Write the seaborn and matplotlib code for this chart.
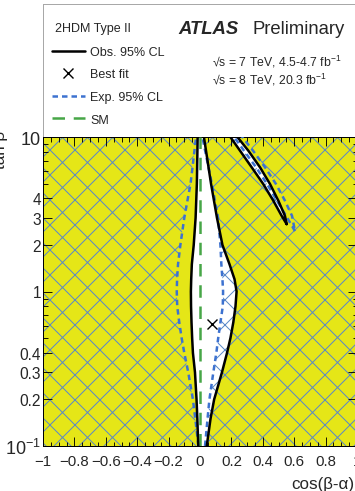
import matplotlib
matplotlib.use("Agg")
import matplotlib.pyplot as plt
from matplotlib.path import Path
from matplotlib.patches import PathPatch
from matplotlib.lines import Line2D
from matplotlib.ticker import FixedLocator, FixedFormatter, MultipleLocator, FuncFormatter, NullFormatter
import seaborn as sns

# ---- data -------------------------------------------------------------
# central allowed band, sampled in tan(beta)
band_tanb = [0.1, 0.15, 0.2, 0.3, 0.4, 0.5, 0.63, 0.8, 1.0, 1.2, 1.5, 2.0, 3.0, 5.0, 10.0]
obs_left = [-0.011, -0.017, -0.022, -0.032, -0.045, -0.050, -0.054, -0.057, -0.058, -0.056, -0.052, -0.040, -0.028, -0.020, -0.015]
obs_right = [0.043, 0.067, 0.090, 0.140, 0.172, 0.194, 0.212, 0.226, 0.233, 0.220, 0.188, 0.143, 0.108, 0.070, 0.025]
exp_left = [-0.010, -0.030, -0.045, -0.075, -0.100, -0.117, -0.132, -0.145, -0.148, -0.146, -0.140, -0.125, -0.100, -0.060, -0.025]
exp_right = [0.032, 0.048, 0.060, 0.085, 0.104, 0.116, 0.130, 0.145, 0.147, 0.143, 0.136, 0.130, 0.115, 0.075, 0.015]

# upper-right "wrong-sign" petal
petal_obs_tanb = [2.73, 3.09, 3.87, 4.96, 6.37, 8.15, 10.46]
petal_obs_left = [0.552, 0.520, 0.467, 0.403, 0.329, 0.255, 0.180]
petal_obs_right = [0.552, 0.541, 0.499, 0.446, 0.382, 0.308, 0.223]
petal_exp_tanb = [2.46, 3.09, 3.87, 4.96, 6.37, 8.15, 10.46]
petal_exp_left = [0.605, 0.548, 0.490, 0.427, 0.357, 0.280, 0.204]
petal_exp_right = [0.605, 0.586, 0.541, 0.484, 0.414, 0.338, 0.255]

best_fit_cos = [0.078]
best_fit_tanb = [0.62]
sm_cos = 0.0

x_ticks = [-1, -0.8, -0.6, -0.4, -0.2, 0, 0.2, 0.4, 0.6, 0.8, 1]
y_ticks = [0.1, 0.2, 0.3, 0.4, 1, 2, 3, 4, 10]
y_tick_labels = [r"$\mathregular{10^{-1}}$", "0.2", "0.3", "0.4", "1", "2", "3", "4", "10"]
y_minor = [0.5, 0.6, 0.7, 0.8, 0.9, 5, 6, 7, 8, 9]

# ---- style ------------------------------------------------------------
W, H, DPI = 355, 492, 75
PX = 72.0 / DPI          # points per pixel

sns.set_theme(style="ticks")
plt.rcParams["font.family"] = ["Liberation Sans", "DejaVu Sans"]
plt.rcParams["mathtext.fontset"] = "custom"
plt.rcParams["mathtext.rm"] = "Liberation Sans"
plt.rcParams["mathtext.it"] = "Liberation Sans:italic"
plt.rcParams["mathtext.bf"] = "Liberation Sans:bold"
plt.rcParams["hatch.linewidth"] = 1.0 * PX

yellow = "#e5e617"
hatch_blue = "#5a88c8"
exp_blue = "#3d72d0"
sm_green = "#47a647"

fig = plt.figure(figsize=(W / DPI, H / DPI), dpi=DPI)
fig.patch.set_facecolor("white")


def fx(px):
    return px / W


def fy(py):
    return 1 - py / H


# header panel holding the legend and labels
head = fig.add_axes([fx(43), fy(138), fx(420) - fx(43), fy(5) - fy(138)])
head.set_xticks([])
head.set_yticks([])
for s in head.spines.values():
    s.set_color("#a8a8a8")
    s.set_linewidth(1.0 * PX)
head.spines["bottom"].set_visible(False)

ax = fig.add_axes([fx(43), fy(447), fx(357) - fx(43), fy(138) - fy(447)])
ax.set_facecolor(yellow)
ax.set_yscale("log")
ax.set_xlim(-1, 1)
ax.set_ylim(0.1, 10)

# observed allowed regions (white)
ax.fill_betweenx(band_tanb, obs_left, obs_right, color="white", lw=0, zorder=1)
ax.fill_betweenx(petal_obs_tanb, petal_obs_left, petal_obs_right, color="white", lw=0, zorder=1)


# expected exclusion: hatch everywhere outside the expected allowed regions
def outline(left, right, ys):
    # up the left edge, back down the right edge (clockwise)
    return list(zip(left, ys)) + list(zip(right[::-1], ys[::-1]))


rings = [[(-1.2, 0.05), (1.2, 0.05), (1.2, 20), (-1.2, 20)],
         outline(exp_left, exp_right, band_tanb),
         outline(petal_exp_left, petal_exp_right, petal_exp_tanb)]
verts, codes = [], []
for r in rings:
    verts += r + [r[0]]
    codes += [Path.MOVETO] + [Path.LINETO] * (len(r) - 1) + [Path.CLOSEPOLY]
hatch_patch = PathPatch(Path(verts, codes), facecolor="none", edgecolor=hatch_blue,
                        hatch="x", lw=0, zorder=2)
ax.add_patch(hatch_patch)

lw_main = 2.5 * PX
exp_style = (0, (2.2, 1.6))
sm_style = (0, (5.0, 3.5))

# expected contours
for xs, ys in [(exp_left, band_tanb), (exp_right, band_tanb),
               (petal_exp_left + petal_exp_right[::-1], petal_exp_tanb + petal_exp_tanb[::-1])]:
    sns.lineplot(x=xs, y=ys, sort=False, estimator=None, color=exp_blue, lw=lw_main,
                 linestyle=exp_style, ax=ax, zorder=3)

# SM expectation
ax.axvline(sm_cos, color=sm_green, lw=lw_main, linestyle=sm_style, zorder=3)

# observed contours
for xs, ys in [(obs_left, band_tanb), (obs_right, band_tanb),
               (petal_obs_left + petal_obs_right[::-1], petal_obs_tanb + petal_obs_tanb[::-1])]:
    sns.lineplot(x=xs, y=ys, sort=False, estimator=None, color="black", lw=lw_main,
                 ax=ax, zorder=4)

# best fit point
sns.scatterplot(x=best_fit_cos, y=best_fit_tanb, marker="x", color="black",
                s=(10 * PX) ** 2, linewidth=1.4 * PX, ax=ax, zorder=5)

# ---- axes -------------------------------------------------------------
ax.xaxis.set_major_locator(FixedLocator(x_ticks))
ax.xaxis.set_minor_locator(MultipleLocator(0.05))
ax.xaxis.set_major_formatter(FuncFormatter(lambda v, p: f"{v:g}".replace("-", "\u2212")))
ax.yaxis.set_major_locator(FixedLocator(y_ticks))
ax.yaxis.set_major_formatter(FixedFormatter(y_tick_labels))
ax.yaxis.set_minor_locator(FixedLocator(y_minor))
ax.yaxis.set_minor_formatter(NullFormatter())

ax.tick_params(which="both", direction="in", top=True, right=True, color="black",
               width=0.9 * PX)
ax.tick_params(which="major", length=9 * PX)
ax.tick_params(which="minor", length=4.5 * PX)
ax.tick_params(axis="x", labelsize=15 * PX, pad=8 * PX)
ax.tick_params(axis="y", labelsize=15.5 * PX, pad=2 * PX)
for lab in ax.get_yticklabels():
    if lab.get_text() in ("10", y_tick_labels[0]):
        lab.set_fontsize(18 * PX)
for s in ax.spines.values():
    s.set_color("black")
    s.set_linewidth(1.0 * PX)
ax.set_axisbelow(False)
ax.set_ylabel("")

ax.set_xlabel("cos(β-α)", loc="right", fontsize=17 * PX, labelpad=8 * PX)
ax.xaxis.label.set_x((354 - 43) / (357 - 43))
fig.text(fx(1), fy(150), "tan β", rotation=90, ha="center", va="center", fontsize=17 * PX)

# ---- header -----------------------------------------------------------
fig.text(fx(55), fy(29), "2HDM Type II", fontsize=12.5 * PX, ha="left", va="center")
handles = [Line2D([], [], color="black", lw=lw_main),
           Line2D([], [], color="black", marker="x", ls="none", ms=10 * PX, mew=1.4 * PX),
           Line2D([], [], color=exp_blue, lw=lw_main, linestyle=exp_style),
           Line2D([], [], color=sm_green, lw=lw_main, linestyle=sm_style)]
labels = ["Obs. 95% CL", "Best fit", "Exp. 95% CL", "SM"]
fig.legend(handles, labels, loc="upper left",
           bbox_to_anchor=(fx(52), fy(47)), bbox_transform=fig.transFigure,
           frameon=False, fontsize=12.5 * PX,
           handlelength=2.6, handletextpad=0.45, labelspacing=0.84,
           borderpad=0, borderaxespad=0)

fig.text(fx(178), fy(34), "ATLAS", fontsize=18.5 * PX, fontweight="bold",
         fontstyle="italic", va="baseline", ha="left")
fig.text(fx(252), fy(34), "Preliminary", fontsize=18.5 * PX, va="baseline", ha="left")
fig.text(fx(212), fy(66), "√s = 7 TeV, 4.5-4.7 fb$^{-1}$", fontsize=12.2 * PX,
         va="baseline", ha="left")
fig.text(fx(212), fy(84), "√s = 8 TeV, 20.3 fb$^{-1}$", fontsize=12.2 * PX,
         va="baseline", ha="left")

fig.savefig("out.png", dpi=DPI)
